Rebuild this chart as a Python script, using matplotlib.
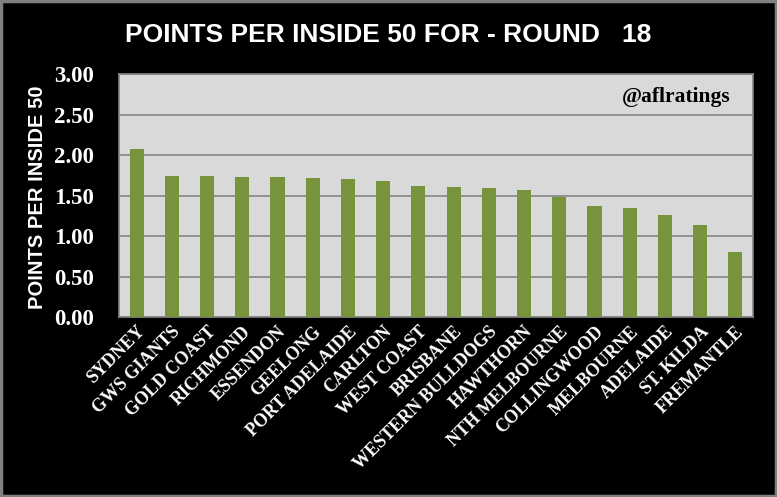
import matplotlib
matplotlib.use("Agg")
import matplotlib.pyplot as plt
from matplotlib.patches import Rectangle
import numpy as np

teams = ["SYDNEY", "GWS GIANTS", "GOLD COAST", "RICHMOND", "ESSENDON", "GEELONG",
         "PORT ADELAIDE", "CARLTON", "WEST COAST", "BRISBANE", "WESTERN BULLDOGS",
         "HAWTHORN", "NTH MELBOURNE", "COLLINGWOOD", "MELBOURNE", "ADELAIDE",
         "ST. KILDA", "FREMANTLE"]
values = [2.08, 1.75, 1.75, 1.73, 1.73, 1.72, 1.71, 1.68, 1.62, 1.61, 1.60,
          1.57, 1.49, 1.37, 1.35, 1.26, 1.14, 0.81]
yticks = [0.0, 0.5, 1.0, 1.5, 2.0, 2.5, 3.0]

fig = plt.figure(figsize=(7.77, 4.97), dpi=100, facecolor="black")
ax = fig.add_axes([119/777, 1-317.3/497, 634/777, 243/497])
ax.set_facecolor("#d9d9d9")

x = np.arange(len(teams))
ax.bar(x, values, width=0.4, color="#77933c", zorder=3)
ax.set_xlim(-0.5, len(teams) - 0.5)
ax.set_ylim(0, 3.0)
ax.set_yticks(yticks)
ax.set_yticklabels([f"{v:.2f}" for v in yticks], fontfamily="Liberation Serif",
                   fontweight="bold", fontsize=16.5, color="white")
ax.yaxis.grid(True, color="#868686", linewidth=1.2, zorder=1)
ax.tick_params(axis="y", length=0, pad=18)
ax.tick_params(axis="x", length=0, pad=4)
ax.set_xticks(x)
ax.set_xticklabels(teams, rotation=45, ha="right", va="top", rotation_mode="anchor",
                   fontfamily="Liberation Serif", fontweight="bold", fontsize=13,
                   color="white")
for s in ax.spines.values():
    s.set_color("#868686")
    s.set_linewidth(1.2)

ax.set_ylabel("POINTS PER INSIDE 50", fontfamily="Liberation Sans",
              fontweight="bold", fontsize=14.5, color="white")
ax.yaxis.set_label_coords(-0.1136, 0.495)

fig.text(0.5, 1 - 35/497, "POINTS PER INSIDE 50 FOR - ROUND   18", ha="center", va="center",
         fontfamily="Liberation Sans", fontweight="bold", fontsize=19, color="white")
ax.text(0.965, 0.905, "@aflratings", transform=ax.transAxes, ha="right", va="center",
        fontfamily="Liberation Serif", fontweight="bold", fontsize=15.5, color="black")

fig.patches.append(Rectangle((0.0015, 0.002), 0.997, 0.996, transform=fig.transFigure,
                             fill=False, edgecolor="#808080", linewidth=2.5))

fig.savefig("out.png", dpi=100, facecolor="black")
